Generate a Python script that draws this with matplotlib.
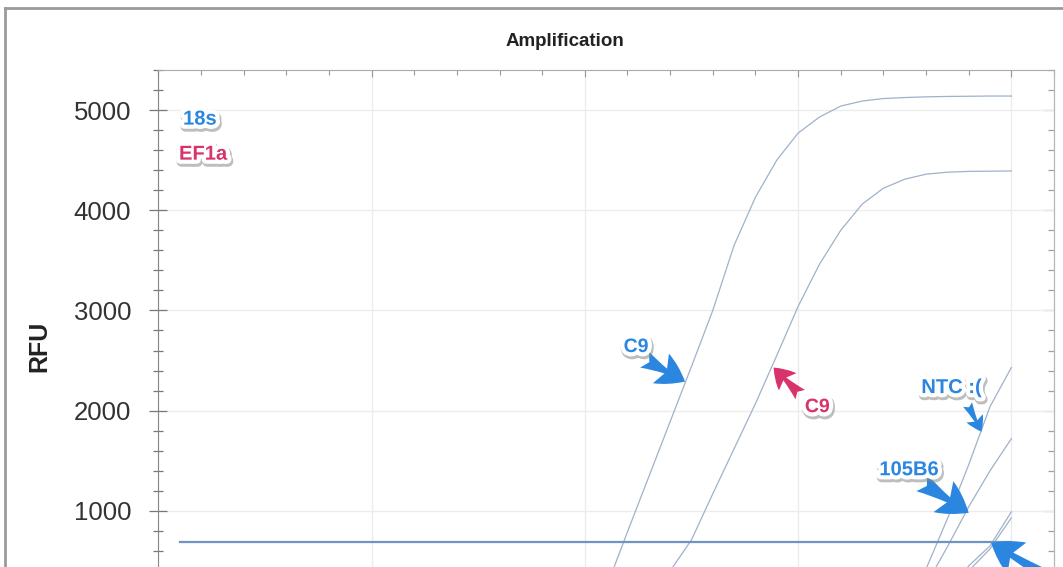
import matplotlib
matplotlib.use("Agg")
import matplotlib.pyplot as plt
import matplotlib.patheffects as pe
from matplotlib.ticker import MultipleLocator, FixedLocator
from matplotlib.lines import Line2D

plt.rcParams['font.family'] = ['Liberation Sans', 'DejaVu Sans']

# cycle numbers and RFU readings
cycles = list(range(1, 41))
rfu_18s_c9 = [0, 0, 0, 0, 0, 0, 0, 0, 0, 0, 0, 0, 0, 0, 0, 0, 0, 0, 10, 60,
              230, 790, 1340, 1890, 2440, 3000, 3650, 4130, 4500, 4770,
              4930, 5040, 5090, 5115, 5125, 5132, 5136, 5138, 5140, 5140]
rfu_ef1a_c9 = [0, 0, 0, 0, 0, 0, 0, 0, 0, 0, 0, 0, 0, 0, 0, 0, 0, 0, 0, 0,
               0, 10, 60, 400, 710, 1170, 1620, 2070, 2550, 3040,
               3460, 3800, 4060, 4220, 4310, 4360, 4380, 4388, 4390, 4392]
rfu_ntc = [0, 0, 0, 0, 0, 0, 0, 0, 0, 0, 0, 0, 0, 0, 0, 0, 0, 0, 0, 0,
           0, 0, 0, 0, 0, 0, 0, 0, 0, 0, 0, 0, 0, 10, 70, 420, 920, 1460, 2040, 2430]
rfu_105b6 = [0, 0, 0, 0, 0, 0, 0, 0, 0, 0, 0, 0, 0, 0, 0, 0, 0, 0, 0, 0,
             0, 0, 0, 0, 0, 0, 0, 0, 0, 0, 0, 0, 0, 5, 50, 260, 640, 1040, 1400, 1720]
rfu_late_a = [0, 0, 0, 0, 0, 0, 0, 0, 0, 0, 0, 0, 0, 0, 0, 0, 0, 0, 0, 0,
              0, 0, 0, 0, 0, 0, 0, 0, 0, 0, 0, 0, 0, 0, 10, 60, 200, 450, 650, 990]
rfu_late_b = [0, 0, 0, 0, 0, 0, 0, 0, 0, 0, 0, 0, 0, 0, 0, 0, 0, 0, 0, 0,
              0, 0, 0, 0, 0, 0, 0, 0, 0, 0, 0, 0, 0, 0, 5, 40, 160, 400, 620, 930]
threshold = 685
threshold_span = [1, 40]
y_labels = [1000, 2000, 3000, 4000, 5000]

curves = [rfu_18s_c9, rfu_ef1a_c9, rfu_ntc, rfu_105b6, rfu_late_a, rfu_late_b]

W, H = 1063, 567
fig = plt.figure(figsize=(W / 100, H / 100), dpi=100)
# axes run off the bottom of the picture, like the cropped screenshot
ax = fig.add_axes([158.3 / W, (H - 611) / H, (1054 - 158.3) / W, (611 - 70) / H])

curve_col = '#9fb2ca'
for y in curves:
    ax.plot(cycles, y, color=curve_col, lw=0.9)
ax.plot(threshold_span, [threshold, threshold], color='#6f93c2', lw=1.6)

ax.set_xlim(0, 42)
ax.set_ylim(0, 5400)

ax.xaxis.set_major_locator(MultipleLocator(10))
ax.xaxis.set_minor_locator(MultipleLocator(2))
ax.yaxis.set_major_locator(FixedLocator(y_labels))
ax.yaxis.set_minor_locator(MultipleLocator(200))
ax.grid(True, which='major', color='#ececec', lw=1.0)
ax.set_axisbelow(True)

ax.xaxis.tick_top()
ax.tick_params(axis='x', which='both', direction='in', colors='#999999',
               labeltop=False, labelbottom=False)
ax.tick_params(axis='x', which='major', length=5, width=0.8)
ax.tick_params(axis='x', which='minor', length=3.5, width=0.8)
ax.tick_params(axis='y', which='both', direction='inout', colors='#777777',
               right=False, labelcolor='#333333', labelsize=18.5, pad=13)
ax.tick_params(axis='y', which='major', length=13, width=0.9)
ax.tick_params(axis='y', which='minor', length=7, width=0.9)

# right side: ticks pointing inwards only
rax = ax.secondary_yaxis('right')
rax.yaxis.set_major_locator(FixedLocator(y_labels))
rax.yaxis.set_minor_locator(MultipleLocator(200))
rax.tick_params(which='both', direction='in', colors='#a0a0a0', labelright=False, width=0.9)
rax.tick_params(which='major', length=7)
rax.tick_params(which='minor', length=4)
rax.spines['right'].set_color('#b5b5b5')

for side, col in [('left', '#888888'), ('top', '#aaaaaa'), ('right', '#b5b5b5')]:
    ax.spines[side].set_color(col)
ax.spines['bottom'].set_visible(False)

ax.set_ylabel('RFU', fontsize=18, fontweight='bold', color='#222222')
ax.yaxis.set_label_coords(-0.119, (611 - 346) / (611 - 70))
fig.text(565 / W, 1 - 42 / H, 'Amplification', ha='center', va='center',
         fontsize=13.5, fontweight='bold', color='#222222')

# outer frame of the screenshot
fig.add_artist(Line2D([5 / W, 5 / W], [0, 1 - 8 / H], color='#9a9a9a', lw=2,
                      transform=fig.transFigure))
fig.add_artist(Line2D([5 / W, 1], [1 - 8 / H, 1 - 8 / H], color='#9a9a9a', lw=2,
                      transform=fig.transFigure))

blue = '#2b86e0'
pink = '#d8336c'
label_fx = [pe.Stroke(linewidth=7, foreground='#8a8a8a', alpha=0.55, offset=(0.8, -1.6)),
            pe.Stroke(linewidth=6, foreground='white'), pe.Normal()]


def tag(text, xy, color, size=14.5):
    ax.text(xy[0], xy[1], text, color=color, fontsize=size, fontweight='bold',
            ha='center', va='center', path_effects=label_fx, zorder=6)


def arrow(tip, tail, color, scale=18):
    ax.annotate('', xy=tip, xytext=tail, annotation_clip=False, zorder=5,
                arrowprops=dict(arrowstyle='fancy,head_length=0.9,head_width=1.1,tail_width=0.6',
                                color=color, mutation_scale=scale, shrinkA=0, shrinkB=0,
                                lw=0))


tag('18s', (1.95, 4910), blue)
tag('EF1a', (2.1, 4560), pink)

tag('C9', (22.4, 2630), blue, 14)
arrow((24.7, 2290), (22.8, 2510), blue, 22)

tag('C9', (30.9, 2030), pink, 14)
arrow((28.85, 2430), (30.1, 2160), pink, 16)

tag('NTC :(', (37.2, 2230), blue)
arrow((38.6, 1790), (37.95, 2060), blue, 12)

tag('105B6', (35.2, 1410), blue)
arrow((38.0, 980), (35.8, 1280), blue, 24)

arrow((39.05, 680), (43.2, 150), blue, 24)

fig.savefig('out.png', dpi=100)
